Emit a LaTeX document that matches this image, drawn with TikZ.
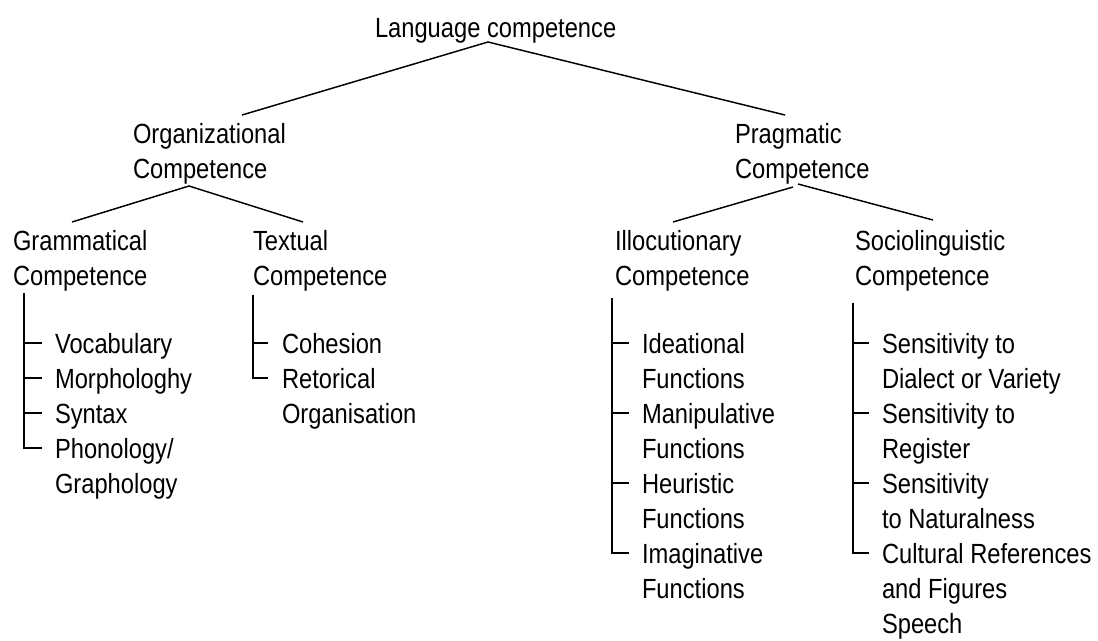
\documentclass[tikz,border=0pt]{standalone}
\usepackage{fontspec}
\setmainfont[FakeStretch=0.855]{Liberation Sans}
\newcommand{\mlines}[1]{\begin{tabular}[t]{@{}l@{}}#1\end{tabular}}
\begin{document}
\begin{tikzpicture}[x=0.75pt,y=-0.75pt,
  txt/.style={anchor=base west,inner sep=0pt,outer sep=0pt,font=\fontsize{20.8pt}{26.25pt}\selectfont},
  ln/.style={line width=1.1pt,black}]
\useasboundingbox (0,0) rectangle (1098,640);
% headers
\node[txt] (lang) at (375,37) {Language competence};
\node[txt] (org) at (133,143) {\mlines{Organizational\\Competence}};
\node[txt] (prag) at (735,143) {\mlines{Pragmatic\\Competence}};
\node[txt] (gram) at (13,250) {\mlines{Grammatical\\Competence}};
\node[txt] (textual) at (253,250) {\mlines{Textual\\Competence}};
\node[txt] (illo) at (615,250) {\mlines{Illocutionary\\Competence}};
\node[txt] (socio) at (855,250) {\mlines{Sociolinguistic\\Competence}};
% grammatical items
\node[txt] (voc) at (55,353) {Vocabulary};
\node[txt] (mor) at (55,388) {Morphologhy};
\node[txt] (syn) at (55,423) {Syntax};
\node[txt] (pho) at (55,458) {\mlines{Phonology/\\Graphology}};
% textual items
\node[txt] (coh) at (282,353) {Cohesion};
\node[txt] (ret) at (282,388) {\mlines{Retorical\\Organisation}};
% illocutionary items
\node[txt] (ide) at (642,353) {\mlines{Ideational\\Functions}};
\node[txt] (man) at (642,423) {\mlines{Manipulative\\Functions}};
\node[txt] (heu) at (642,493) {\mlines{Heuristic\\Functions}};
\node[txt] (ima) at (642,563) {\mlines{Imaginative\\Functions}};
% sociolinguistic items
\node[txt] (sdi) at (882,353) {\mlines{Sensitivity to\\Dialect or Variety}};
\node[txt] (sre) at (882,423) {\mlines{Sensitivity to\\Register}};
\node[txt] (sna) at (882,493) {\mlines{Sensitivity\\to Naturalness}};
\node[txt] (cul) at (882,563) {\mlines{Cultural References\\and Figures\\Speech}};
% tree connectors
\coordinate (lapex) at (488,42);
\coordinate (orgtop) at (242,115);
\coordinate (pragtop) at (785,115);
\draw[ln] (orgtop) -- (lapex) -- (pragtop);
\coordinate (oapex) at (189,186);
\coordinate (gramtop) at (72,222);
\coordinate (texttop) at (303,222);
\draw[ln] (gramtop) -- (oapex) -- (texttop);
\coordinate (papexl) at (793,187);
\coordinate (papexr) at (798,184);
\coordinate (illotop) at (673,222);
\coordinate (sociotop) at (933,220);
\draw[ln] (papexl) -- (illotop);
\draw[ln] (papexr) -- (sociotop);
% bracket lists
\coordinate (gv) at (24,293);
\foreach \n in {voc,mor,syn,pho} \draw[ln] (gv) |- ([shift={(-13,-10)}]\n.base west);
\coordinate (tv) at (253,295);
\foreach \n in {coh,ret} \draw[ln] (tv) |- ([shift={(-14,-10)}]\n.base west);
\coordinate (iv) at (612,298);
\foreach \n in {ide,man,heu,ima} \draw[ln] (iv) |- ([shift={(-13,-10)}]\n.base west);
\coordinate (sv) at (853,303);
\foreach \n in {sdi,sre,sna,cul} \draw[ln] (sv) |- ([shift={(-13,-10)}]\n.base west);
\end{tikzpicture}
\end{document}
